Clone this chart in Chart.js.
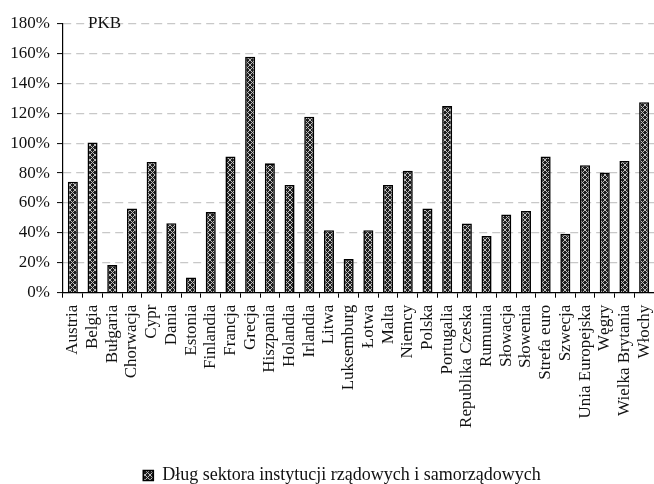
<!DOCTYPE html>
<html lang="pl">
<head>
<meta charset="utf-8">
<title>Dług sektora instytucji rządowych i samorządowych</title>
<script src="https://cdn.jsdelivr.net/npm/chart.js@4.4.1/dist/chart.umd.min.js"></script>
<style>
  html, body { margin: 0; padding: 0; background: #fff; overflow: hidden; }
  #chart { display: block; }
</style>
</head>
<body>
<canvas id="chart" width="654" height="484"></canvas>
<script>
// Kraje / agregaty na osi kategorii
const categories = [
  'Austria', 'Belgia', 'Bułgaria', 'Chorwacja', 'Cypr', 'Dania', 'Estonia',
  'Finlandia', 'Francja', 'Grecja', 'Hiszpania', 'Holandia', 'Irlandia', 'Litwa',
  'Luksemburg', 'Łotwa', 'Malta', 'Niemcy', 'Polska', 'Portugalia',
  'Republika Czeska', 'Rumunia', 'Słowacja', 'Słowenia', 'Strefa euro', 'Szwecja',
  'Unia Europejska', 'Węgry', 'Wielka Brytania', 'Włochy'
];

// Dług w % PKB
const debtValues = [
  74.2, 100.5, 18.5, 56.3, 87.4, 46.5, 10.2,
  53.9, 91.0, 157.7, 86.5, 72.0, 117.7, 41.8,
  22.5, 41.8, 72.0, 81.6, 56.3, 124.8,
  46.2, 37.9, 52.3, 54.7, 91.0, 39.4,
  85.3, 80.4, 88.1, 127.4
];

const seriesLabel = 'Dług sektora instytucji rządowych i samorządowych';
const yTicks = [0, 20, 40, 60, 80, 100, 120, 140, 160, 180];
const unitLabel = 'PKB';

const FONT = '"Liberation Serif", "Times New Roman", serif';

// Ciemne wypełnienie z jasną kratką ukośną
function makeHatch() {
  const c = document.createElement('canvas');
  c.width = 5; c.height = 5;
  const g = c.getContext('2d');
  g.fillStyle = '#1e1e1e';
  g.fillRect(0, 0, 5, 5);
  g.strokeStyle = '#bdbdbd';
  g.lineWidth = 1;
  g.beginPath();
  g.moveTo(0, 0); g.lineTo(5, 5);
  g.moveTo(5, 0); g.lineTo(0, 5);
  g.stroke();
  return g.createPattern(c, 'repeat');
}

const hatch = makeHatch();

// Napis jednostki w lewym górnym rogu obszaru wykresu
const unitLabelPlugin = {
  id: 'unitLabel',
  afterDraw(chart) {
    const { ctx, chartArea } = chart;
    ctx.save();
    ctx.font = '17px ' + FONT;
    ctx.fillStyle = '#111';
    ctx.textBaseline = 'alphabetic';
    ctx.textAlign = 'left';
    ctx.fillText(unitLabel, chartArea.left + 25, chartArea.top + 4);
    ctx.restore();
  }
};

// Legenda: przesunięcie w prawo i w dół, pod środek osi kategorii
const legendPlacement = {
  id: 'legendPlacement',
  afterLayout(chart) {
    const lg = chart.legend;
    if (!lg) return;
    const dx = 15, dy = 10.5;
    lg.left += dx; lg.right += dx;
    lg.top += dy; lg.bottom += dy;
  }
};

new Chart(document.getElementById('chart'), {
  type: 'bar',
  data: {
    labels: categories,
    datasets: [{
      label: seriesLabel,
      data: debtValues,
      backgroundColor: hatch,
      borderColor: '#000',
      borderWidth: 1.6,
      barPercentage: 0.51,
      categoryPercentage: 1.0
    }]
  },
  options: {
    responsive: false,
    devicePixelRatio: 1,
    animation: false,
    layout: { padding: { top: 23.5, left: 0, right: 0, bottom: 0 } },
    plugins: {
      tooltip: { enabled: false },
      legend: {
        position: 'bottom',
        labels: {
          font: { family: FONT, size: 18 },
          color: '#111',
          boxWidth: 10,
          boxHeight: 10,
          padding: 4
        }
      }
    },
    scales: {
      x: {
        offset: true,
        grid: {
          display: true,
          drawOnChartArea: false,
          offset: true,
          tickLength: 5,
          tickColor: '#000',
          tickWidth: 1
        },
        border: { display: true, color: '#000', width: 1.2 },
        ticks: {
          autoSkip: false,
          maxRotation: 90,
          minRotation: 90,
          padding: 7,
          color: '#111',
          font: { family: FONT, size: 17 }
        },
        afterFit(scale) {
          scale.paddingLeft = 0;
          scale.paddingRight = 0;
          scale.height = 159.3;
        }
      },
      y: {
        min: 0,
        max: 180,
        afterBuildTicks(scale) {
          scale.ticks = yTicks.map(v => ({ value: v }));
        },
        grid: {
          color: '#c8c8c8',
          lineWidth: 1.2,
          tickBorderDash: [],
          tickColor: '#000',
          tickLength: 6,
          tickWidth: 1
        },
        border: { display: true, color: '#000', width: 1.2, dash: [8, 5] },
        ticks: {
          padding: 7,
          color: '#111',
          font: { family: FONT, size: 17 },
          callback: v => v + '%'
        },
        afterFit(scale) {
          scale.width = 63;
        }
      }
    }
  },
  plugins: [unitLabelPlugin, legendPlacement]
});
</script>
</body>
</html>
